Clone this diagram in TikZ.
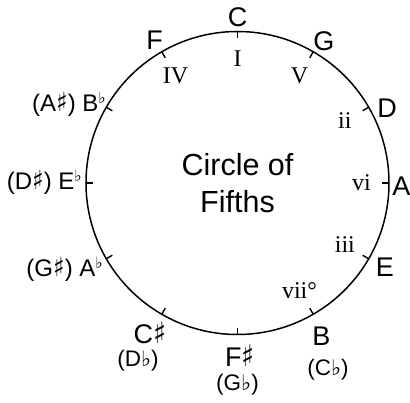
\documentclass[tikz,border=0pt]{standalone}
\usepackage{graphicx}
\usepackage{fontspec}
\setmainfont{Liberation Sans}
\newfontfamily\romfont{Liberation Serif}
\newfontfamily\symfont{DejaVu Sans}
\usetikzlibrary{positioning}
\newcommand{\fl}{{\symfont\scalebox{0.95}{♭}}}
\newcommand{\upfl}{\raisebox{0.3em}{\symfont\scalebox{0.65}{♭}}}
\newcommand{\sh}{{\symfont\scalebox{1}[1.1]{♯}}}
\tikzset{note/.style={font=\fontsize{27}{32}\selectfont,inner sep=0pt},alt/.style={font=\fontsize{22.5}{27}\selectfont,inner sep=0pt},side/.style={font=\fontsize{24}{28}\selectfont,inner sep=0pt,anchor=east},rom/.style={font=\romfont\fontsize{24}{28}\selectfont,inner sep=0pt},notch/.style={line width=1.4pt}}

\begin{document}
\begin{tikzpicture}[x=1pt,y=1pt]
\useasboundingbox (-237.5,-219) rectangle (172.5,183);
\node[circle,draw,line width=1.5pt,minimum size=303pt,inner sep=0pt,outer sep=0pt,align=center,font=\fontsize{30.5}{37}\selectfont] (wheel) at (0,0) {Circle of\\Fifths};
\foreach \a in {0,30,...,330} \draw[notch] (wheel.\a)--++(\a+180:7);
% degrees of the scale
\foreach \a/\r in {90/I,120/IV,60/V,30/ii,0/vi,-30/iii,-60/vii°} \node[rom] (deg\a) at (\a:124) {\r};
% keys
\node[note] (c) at (0.2,165.7) {C};
\node[note] (g) at (86.5,142) {G};
\node[note] (d) at (149.5,75) {D};
\node[note] (a) at (164,-3) {A};
\node[note] (e) at (147.5,-84) {E};
\node[note] (b) at (84,-153.5) {B};
\node[alt] (cb) at (90.5,-187) {(C\fl)};
\node[note] (fs) at (2.5,-173) {F\sh};
\node[alt] (gb) at (0,-202) {(G\fl)};
\node[note] (cs) at (-87.5,-150) {C\sh};
\node[alt] (db) at (-99.5,-178) {(D\fl)};
\node[side] (ab) at (-134.5,-86) {(G\sh) A\upfl};
\node[side] (eb) at (-155.5,1) {(D\sh) E\upfl};
\node[side] (bb) at (-131.5,79) {(A\sh) B\upfl};
\node[note] (f) at (-83,143) {F};
\end{tikzpicture}
\end{document}
